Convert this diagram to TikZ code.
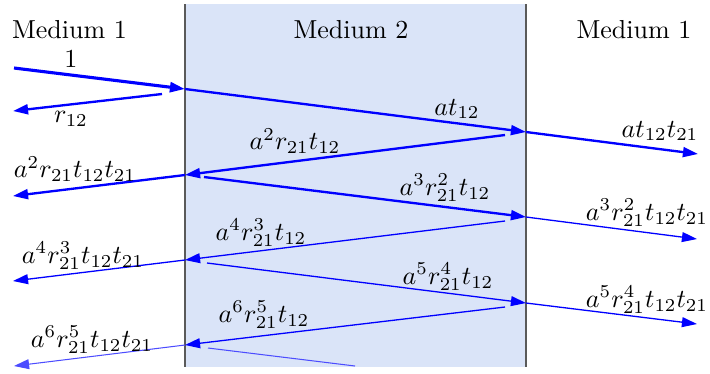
\documentclass[tikz,border=0pt]{standalone}
\usetikzlibrary{arrows.meta}
\definecolor{medfill}{RGB}{218,228,248}
\definecolor{edgegray}{RGB}{90,90,90}
\begin{document}
\begin{tikzpicture}[x=0.3845pt,y=-0.3845pt,
  ray/.style={blue,-{Triangle[length=5.8pt,width=3.8pt]}},
  seg/.style={blue},
  wA/.style={line width=1.2pt},
  wB/.style={line width=0.9pt},
  wC/.style={line width=0.5pt},
  wD/.style={line width=0.4pt,blue!70},
  lbl/.style={inner sep=0pt},
  edge/.style={edgegray,line width=0.5pt}]
\useasboundingbox (0,0) rectangle (710,373);
% media
\coordinate (TL) at (185,4);
\coordinate (BR) at (526,367);
\coordinate (BL) at (185,367);
\coordinate (TR) at (526,4);
\fill[medfill] (TL) rectangle (BR);
\draw[edge] (TL) -- (BL);
\draw[edge] (TR) -- (BR);
% points
\coordinate (S0) at (14,68);
\coordinate (L0) at (185,89);
\coordinate (r0s) at (162,94);
\coordinate (r0e) at (13,111);
\coordinate (R1) at (526,132);
\coordinate (o1e) at (698,154);
\coordinate (R1s) at (505,135);
\coordinate (L1) at (185,175);
\coordinate (l1e) at (13,196);
\coordinate (L1s) at (204,177);
\coordinate (R2) at (526,217);
\coordinate (o2e) at (697,239);
\coordinate (R2s) at (505,221);
\coordinate (L2) at (185,260);
\coordinate (l2e) at (13,281);
\coordinate (L2s) at (207,263);
\coordinate (R3) at (526,303);
\coordinate (o3e) at (697,324);
\coordinate (R3s) at (505,307);
\coordinate (L3) at (185,345);
\coordinate (l3e) at (14,366);
\coordinate (L3s) at (208,348);
\coordinate (E) at (355,366);
% rays
\draw[ray,wA] (S0) -- (L0);
\draw[ray,wB] (r0s) -- (r0e);
\draw[ray,wB] (L0) -- (R1);
\draw[ray,wB] (R1) -- (o1e);
\draw[ray,wB] (R1s) -- (L1);
\draw[ray,wB] (L1) -- (l1e);
\draw[ray,wB] (L1s) -- (R2);
\draw[ray,wC] (R2) -- (o2e);
\draw[ray,wC] (R2s) -- (L2);
\draw[ray,wC] (L2) -- (l2e);
\draw[ray,wC] (L2s) -- (R3);
\draw[ray,wC] (R3) -- (o3e);
\draw[ray,wC] (R3s) -- (L3);
\draw[ray,wD] (L3) -- (l3e);
\draw[seg,wD] (L3s) -- (E);
% labels
\node[lbl,anchor=base] (m1) at (69.5,38) {Medium 1};
\node[lbl,anchor=base] (m2) at (351,38) {Medium 2};
\node[lbl,anchor=base] (m3) at (634,38) {Medium 1};
\node[lbl] (t0) at (71,59) {$1$};
\node[lbl] (t1) at (71,119) {$r_{12}$};
\node[lbl] (t2) at (457,109) {$at_{12}$};
\node[lbl] (t3) at (660,131) {$at_{12}t_{21}$};
\node[lbl] (t4) at (295,141) {$a^2r_{21}t_{12}$};
\node[lbl] (t5) at (75,169) {$a^2r_{21}t_{12}t_{21}$};
\node[lbl] (t6) at (445,188) {$a^3r_{21}^2t_{12}$};
\node[lbl] (t7) at (647,213) {$a^3r_{21}^2t_{12}t_{21}$};
\node[lbl] (t8) at (261,233) {$a^4r_{21}^3t_{12}$};
\node[lbl] (t9) at (83,256) {$a^4r_{21}^3t_{12}t_{21}$};
\node[lbl] (t10) at (448,277) {$a^5r_{21}^4t_{12}$};
\node[lbl] (t11) at (647,300) {$a^5r_{21}^4t_{12}t_{21}$};
\node[lbl] (t12) at (264,315) {$a^6r_{21}^5t_{12}$};
\node[lbl] (t13) at (92,340) {$a^6r_{21}^5t_{12}t_{21}$};
\end{tikzpicture}
\end{document}
